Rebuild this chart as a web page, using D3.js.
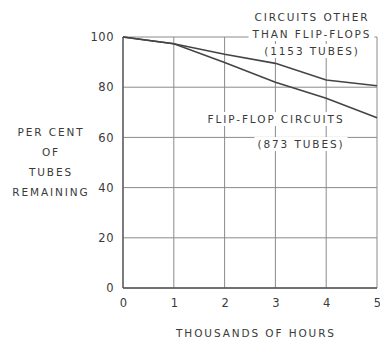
<!DOCTYPE html>
<html>
<head>
<meta charset="utf-8">
<script src="https://cdn.jsdelivr.net/npm/d3@7"></script>
<style>
  body { margin: 0; background: #fff; }
  text { font-family: "DejaVu Sans", sans-serif; fill: #3a3a3a; }
</style>
</head>
<body>
<svg id="chart" width="380" height="343"></svg>
<script>
// values
const hours = [0, 1, 2, 3, 4, 5];
const otherCircuits = [100, 97.3, 93.1, 89.5, 82.9, 80.6];
const flipFlopCircuits = [100, 97.3, 89.8, 82, 75.6, 67.8];
const yTicks = [0, 20, 40, 60, 80, 100];

const svg = d3.select("#chart");
const margin = { left: 123, right: 3, top: 37, bottom: 55 };
const width = 380, height = 343;

const x = d3.scaleLinear().domain([0, 5]).range([margin.left, width - margin.right]);
const y = d3.scaleLinear().domain([0, 100]).range([height - margin.bottom, margin.top]);

// grid
const grid = svg.append("g").attr("stroke", "#8a8a8a").attr("stroke-width", 1);
grid.selectAll("line.v").data(hours).join("line")
  .attr("x1", d => x(d)).attr("x2", d => x(d))
  .attr("y1", y(0)).attr("y2", y(100));
grid.selectAll("line.h").data(yTicks).join("line")
  .attr("x1", x(0)).attr("x2", x(5))
  .attr("y1", d => y(d)).attr("y2", d => y(d));

// frame lines a bit darker
svg.append("line").attr("x1", x(0)).attr("x2", x(0)).attr("y1", y(0)).attr("y2", y(100))
  .attr("stroke", "#555").attr("stroke-width", 1.3);
svg.append("line").attr("x1", x(0)).attr("x2", x(5)).attr("y1", y(0)).attr("y2", y(0))
  .attr("stroke", "#555").attr("stroke-width", 1.3);

// series
const line = d3.line().x((d, i) => x(hours[i])).y(d => y(d));
[otherCircuits, flipFlopCircuits].forEach(s => {
  svg.append("path").datum(s).attr("d", line)
    .attr("fill", "none").attr("stroke", "#444").attr("stroke-width", 1.6);
});

// axis labels
const yAxis = d3.axisLeft(y).tickValues(yTicks).tickSize(0).tickPadding(9);
svg.append("g").attr("transform", `translate(${x(0)},0)`).call(yAxis)
  .call(g => g.select(".domain").remove())
  .selectAll("text").style("font-size", "11.5px").style("letter-spacing", "0.5px").attr("fill", "#3a3a3a");

const xAxis = d3.axisBottom(x).tickValues(hours).tickFormat(d3.format("d")).tickSize(0).tickPadding(11);
svg.append("g").attr("transform", `translate(0,${y(0)})`).call(xAxis)
  .call(g => g.select(".domain").remove())
  .selectAll("text").style("font-size", "11.5px").attr("fill", "#3a3a3a");

function label(lines, cx, y0, dy, bg) {
  const g = svg.append("g");
  lines.forEach((t, i) => {
    const txt = g.append("text").attr("x", cx).attr("y", y0 + i * dy)
      .attr("text-anchor", "middle").attr("dominant-baseline", "middle")
      .style("font-size", "10.5px").style("letter-spacing", "1.9px").text(t);
    if (bg) {
      const b = txt.node().getBBox();
      g.insert("rect", "text").attr("x", b.x - 3).attr("y", b.y - 1)
        .attr("width", b.width + 6).attr("height", b.height + 2).attr("fill", "#fff");
    }
  });
}

label(["CIRCUITS OTHER", "THAN FLIP-FLOPS", "(1153  TUBES)"], 312, 18, 17, true);
label(["FLIP-FLOP CIRCUITS"], 276, 120, 0, true);
label(["(873 TUBES)"], 301, 145, 0, true);
label(["PER CENT", "OF", "TUBES", "REMAINING"], 51, 133, 20, false);
label(["THOUSANDS  OF  HOURS"], 256, 334, 0, false);
</script>
</body>
</html>
